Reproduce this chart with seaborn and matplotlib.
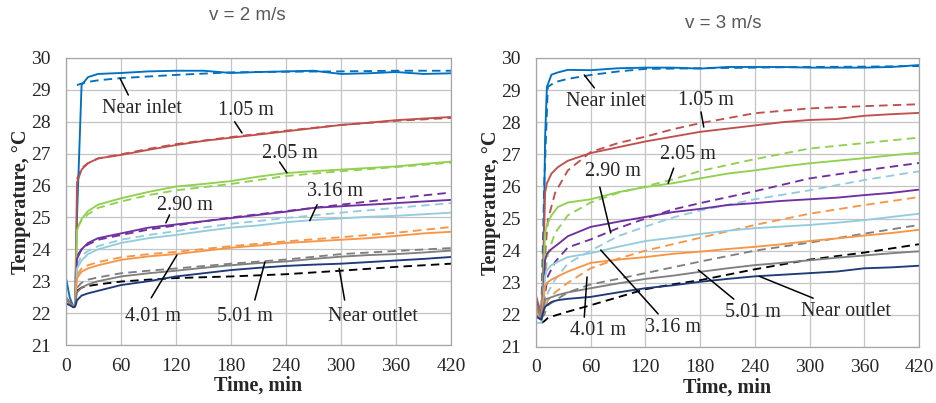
import numpy as np
import pandas as pd
import matplotlib
matplotlib.use("Agg")
import matplotlib.pyplot as plt
import seaborn as sns

# ---- data (temperature, degC) ----
series_names = ["Near inlet", "1.05 m", "2.05 m", "2.90 m", "3.16 m", "4.01 m", "5.01 m", "Near outlet"]
solid_colors = ["#0070C0", "#C0504D", "#92D050", "#7030A0", "#93CDDD", "#F79646", "#808080", "#1F3A78"]
dashed_colors = ["#0070C0", "#C0504D", "#92D050", "#7030A0", "#93CDDD", "#F79646", "#808080", "#000000"]

# v = 2 m/s, measured
t_meas_2 = [0, 4, 8, 10, 12, 17, 24, 35, 60, 90, 120, 150, 180, 210, 240, 270, 300, 330, 360, 390, 420]
meas_2_inlet = [23.1, 22.5, 22.2, 22.3, 25.0, 29.15, 29.4, 29.5, 29.53, 29.58, 29.6, 29.6, 29.53, 29.56, 29.58, 29.6, 29.5, 29.52, 29.56, 29.5, 29.52]
meas_2_105 = [22.5, 22.35, 22.2, 22.3, 26.1, 26.5, 26.7, 26.85, 26.96, 27.12, 27.27, 27.4, 27.5, 27.6, 27.7, 27.8, 27.9, 27.97, 28.05, 28.1, 28.15]
meas_2_205 = [22.45, 22.3, 22.2, 22.3, 24.6, 24.95, 25.2, 25.4, 25.6, 25.8, 25.97, 26.05, 26.14, 26.28, 26.39, 26.45, 26.5, 26.55, 26.6, 26.68, 26.75]
meas_2_290 = [22.4, 22.3, 22.2, 22.3, 23.7, 24.0, 24.2, 24.35, 24.5, 24.68, 24.78, 24.88, 24.98, 25.08, 25.18, 25.3, 25.35, 25.4, 25.45, 25.5, 25.55]
meas_2_316 = [22.35, 22.3, 22.2, 22.3, 23.4, 23.65, 23.85, 24.0, 24.2, 24.35, 24.45, 24.57, 24.68, 24.75, 24.85, 24.92, 24.97, 25.02, 25.05, 25.1, 25.15]
meas_2_401 = [22.35, 22.28, 22.2, 22.3, 23.1, 23.3, 23.4, 23.5, 23.67, 23.78, 23.85, 23.95, 24.05, 24.12, 24.2, 24.25, 24.3, 24.35, 24.42, 24.5, 24.55]
meas_2_501 = [22.5, 22.3, 22.2, 22.25, 22.65, 22.8, 22.9, 23.0, 23.15, 23.25, 23.33, 23.42, 23.5, 23.57, 23.62, 23.7, 23.77, 23.82, 23.85, 23.9, 23.96]
meas_2_outlet = [22.3, 22.25, 22.18, 22.2, 22.4, 22.55, 22.62, 22.7, 22.88, 23.0, 23.15, 23.25, 23.35, 23.42, 23.48, 23.52, 23.55, 23.6, 23.65, 23.7, 23.76]

# v = 2 m/s, simulated
t_sim_2 = [12, 17, 24, 35, 60, 90, 120, 180, 240, 300, 360, 420]
sim_2_inlet = [29.15, 29.2, 29.25, 29.3, 29.37, 29.42, 29.47, 29.55, 29.57, 29.58, 29.6, 29.6]
sim_2_105 = [26.2, 26.55, 26.7, 26.85, 26.98, 27.15, 27.3, 27.52, 27.72, 27.9, 28.03, 28.12]
sim_2_205 = [24.7, 24.9, 25.1, 25.3, 25.5, 25.7, 25.85, 26.05, 26.3, 26.45, 26.58, 26.72]
sim_2_290 = [23.8, 24.0, 24.15, 24.3, 24.45, 24.62, 24.75, 25.0, 25.2, 25.4, 25.6, 25.78]
sim_2_316 = [23.5, 23.8, 23.95, 24.1, 24.3, 24.45, 24.57, 24.8, 24.98, 25.15, 25.3, 25.45]
sim_2_401 = [23.2, 23.4, 23.5, 23.6, 23.75, 23.85, 23.92, 24.1, 24.25, 24.38, 24.52, 24.7]
sim_2_501 = [22.8, 22.95, 23.05, 23.12, 23.25, 23.33, 23.4, 23.55, 23.68, 23.85, 23.95, 24.04]
sim_2_outlet = [22.7, 22.8, 22.85, 22.9, 22.99, 23.05, 23.1, 23.15, 23.22, 23.33, 23.45, 23.55]

# v = 3 m/s, measured
t_meas_3 = [0, 3, 6, 8, 10, 12, 17, 24, 35, 60, 90, 120, 150, 180, 210, 240, 270, 300, 330, 360, 390, 420]
meas_3_inlet = [22.55, 22.2, 21.9, 23.0, 27.5, 29.1, 29.48, 29.55, 29.63, 29.62, 29.68, 29.7, 29.7, 29.67, 29.72, 29.72, 29.72, 29.7, 29.7, 29.7, 29.72, 29.78]
meas_3_105 = [22.6, 22.3, 21.95, 23.5, 25.8, 26.1, 26.4, 26.6, 26.8, 27.04, 27.22, 27.4, 27.55, 27.7, 27.8, 27.9, 28.0, 28.07, 28.1, 28.2, 28.25, 28.29]
meas_3_205 = [22.3, 22.1, 21.9, 23.0, 24.55, 24.8, 25.1, 25.36, 25.5, 25.6, 25.82, 25.98, 26.1, 26.25, 26.4, 26.5, 26.62, 26.72, 26.8, 26.88, 26.97, 27.05]
meas_3_290 = [22.0, 21.9, 21.85, 22.6, 23.7, 23.9, 24.05, 24.2, 24.45, 24.74, 24.9, 25.05, 25.2, 25.3, 25.42, 25.48, 25.55, 25.6, 25.65, 25.73, 25.8, 25.9]
meas_3_316 = [21.75, 21.75, 21.75, 22.4, 23.2, 23.4, 23.55, 23.65, 23.8, 23.92, 24.12, 24.3, 24.4, 24.52, 24.62, 24.7, 24.75, 24.8, 24.87, 24.95, 25.05, 25.15]
meas_3_401 = [22.15, 22.0, 21.9, 22.4, 22.9, 23.0, 23.1, 23.2, 23.35, 23.62, 23.72, 23.8, 23.9, 23.97, 24.05, 24.12, 24.2, 24.3, 24.38, 24.47, 24.55, 24.65]
meas_3_501 = [22.3, 22.1, 21.9, 22.2, 22.5, 22.5, 22.55, 22.62, 22.7, 22.83, 22.98, 23.12, 23.22, 23.34, 23.45, 23.55, 23.62, 23.7, 23.78, 23.85, 23.92, 23.98]
meas_3_outlet = [21.95, 21.9, 21.85, 22.1, 22.25, 22.3, 22.4, 22.46, 22.5, 22.56, 22.7, 22.83, 22.92, 23.03, 23.12, 23.2, 23.25, 23.3, 23.35, 23.45, 23.48, 23.53]

# v = 3 m/s, simulated
t_sim_3 = [6, 9, 13, 21, 35, 60, 90, 120, 150, 180, 240, 300, 360, 420]
sim_3_inlet = [22.2, 26.0, 29.1, 29.25, 29.35, 29.47, 29.58, 29.66, 29.67, 29.68, 29.7, 29.72, 29.73, 29.75]
sim_3_105 = [22.2, 23.5, 24.95, 25.8, 26.5, 27.07, 27.35, 27.55, 27.78, 27.97, 28.28, 28.43, 28.5, 28.56]
sim_3_205 = [22.1, 23.0, 23.9, 24.55, 25.1, 25.5, 25.8, 26.0, 26.22, 26.48, 26.85, 27.18, 27.35, 27.52]
sim_3_290 = [21.9, 22.5, 23.2, 23.65, 24.1, 24.35, 24.7, 25.0, 25.28, 25.48, 25.85, 26.25, 26.5, 26.73]
sim_3_316 = [21.8, 22.2, 22.7, 23.1, 23.6, 24.0, 24.45, 24.75, 25.03, 25.25, 25.6, 25.88, 26.2, 26.47]
sim_3_401 = [21.9, 22.1, 22.45, 22.7, 23.0, 23.45, 23.75, 24.0, 24.2, 24.4, 24.8, 25.15, 25.42, 25.67]
sim_3_501 = [21.9, 22.0, 22.3, 22.45, 22.7, 22.95, 23.12, 23.3, 23.48, 23.66, 24.0, 24.25, 24.53, 24.8]
sim_3_outlet = [21.75, 21.8, 21.9, 21.98, 22.1, 22.3, 22.55, 22.8, 22.95, 23.08, 23.42, 23.72, 23.94, 24.2]

x_ticks = [0, 60, 120, 180, 240, 300, 360, 420]
y_ticks = [21, 22, 23, 24, 25, 26, 27, 28, 29, 30]

meas_2 = [meas_2_inlet, meas_2_105, meas_2_205, meas_2_290, meas_2_316, meas_2_401, meas_2_501, meas_2_outlet]
sim_2 = [sim_2_inlet, sim_2_105, sim_2_205, sim_2_290, sim_2_316, sim_2_401, sim_2_501, sim_2_outlet]
meas_3 = [meas_3_inlet, meas_3_105, meas_3_205, meas_3_290, meas_3_316, meas_3_401, meas_3_501, meas_3_outlet]
sim_3 = [sim_3_inlet, sim_3_105, sim_3_205, sim_3_290, sim_3_316, sim_3_401, sim_3_501, sim_3_outlet]

# label placement (text pos, leader line start, leader line end) in data units
labels_2 = [
    ("Near inlet", (83, 28.43), (68, 28.84), (59, 29.36)),
    ("1.05 m", (196, 28.36), (184, 28.0), (192, 27.65)),
    ("2.05 m", (244, 27.0), (233, 26.74), (241, 26.4)),
    ("3.16 m", (293, 25.8), (274, 25.4), (266, 24.9)),
    ("2.90 m", (130, 25.36), (113, 25.08), (109, 24.83)),
    ("4.01 m", (95, 21.9), (93, 22.48), (121, 23.82)),
    ("5.01 m", (195, 21.9), (206, 22.41), (217, 23.6)),
    ("Near outlet", (335, 21.88), (304, 22.41), (298, 23.4)),
]
labels_3 = [
    ("Near inlet", (77, 28.63), (64, 29.07), (53, 29.47)),
    ("1.05 m", (186, 28.69), (181, 28.32), (184, 27.85)),
    ("2.05 m", (167, 27.0), (151, 26.57), (145, 26.1)),
    ("2.90 m", (84, 26.45), (70, 25.98), (82, 24.55)),
    ("3.16 m", (150, 21.6), (134, 22.03), (71, 24.02)),
    ("4.01 m", (68, 21.5), (53, 21.93), (56, 23.18)),
    ("5.01 m", (238, 22.06), (217, 22.49), (178, 23.4)),
    ("Near outlet", (340, 22.1), (304, 22.52), (245, 23.2)),
]

sns.set_style("white")
plt.rcParams["font.family"] = ["Liberation Serif", "DejaVu Serif"]

fig = plt.figure(figsize=(9.36, 4.03), dpi=100)
ax_l = fig.add_axes([0.0705, 0.1439, 0.4113, 0.7122])
ax_r = fig.add_axes([0.5726, 0.139, 0.4092, 0.7171])


def draw_panel(ax, t_meas, meas, t_sim, sim, labels):
    for i in range(len(series_names)):
        sns.lineplot(x=t_sim, y=sim[i], ax=ax, color=dashed_colors[i], lw=1.35,
                     linestyle=(0, (4.5, 2.8)), estimator=None, sort=False)
    for i in range(len(series_names)):
        sns.lineplot(x=t_meas, y=meas[i], ax=ax, color=solid_colors[i], lw=1.35,
                     estimator=None, sort=False)
    ax.set_xlim(0, 420)
    ax.set_ylim(21, 30)
    ax.set_xticks(x_ticks)
    ax.set_yticks(y_ticks)
    ax.grid(True, color="#C4C4C4", lw=0.9)
    ax.set_axisbelow(True)
    for s in ax.spines.values():
        s.set_color("#A6A6A6")
        s.set_linewidth(0.9)
    ax.tick_params(length=0, labelsize=14)
    ax.tick_params(axis="x", pad=9)
    ax.tick_params(axis="y", pad=11)
    ax.set_xlabel("Time, min", fontsize=14.5, fontweight="bold", labelpad=1)
    ax.set_ylabel("Temperature, \u00b0C", fontsize=14.5, fontweight="bold", labelpad=0)
    for name, txt, p0, p1 in labels:
        ax.text(txt[0], txt[1], name, fontsize=14.5, ha="center", va="center")
        ax.annotate("", xy=p1, xytext=p0,
                    arrowprops=dict(arrowstyle="-", color="black", lw=1.1,
                                    shrinkA=0, shrinkB=0))


draw_panel(ax_l, t_meas_2, meas_2, t_sim_2, sim_2, labels_2)
draw_panel(ax_r, t_meas_3, meas_3, t_sim_3, sim_3, labels_3)

fig.text(247 / 936, 1 - 16 / 403, "v = 2 m/s", fontsize=13.5, color="#595959",
         family="Liberation Sans", ha="center", va="center")
fig.text(723 / 936, 1 - 24 / 403, "v = 3 m/s", fontsize=13.5, color="#595959",
         family="Liberation Sans", ha="center", va="center")

fig.savefig("out.png", dpi=100)
